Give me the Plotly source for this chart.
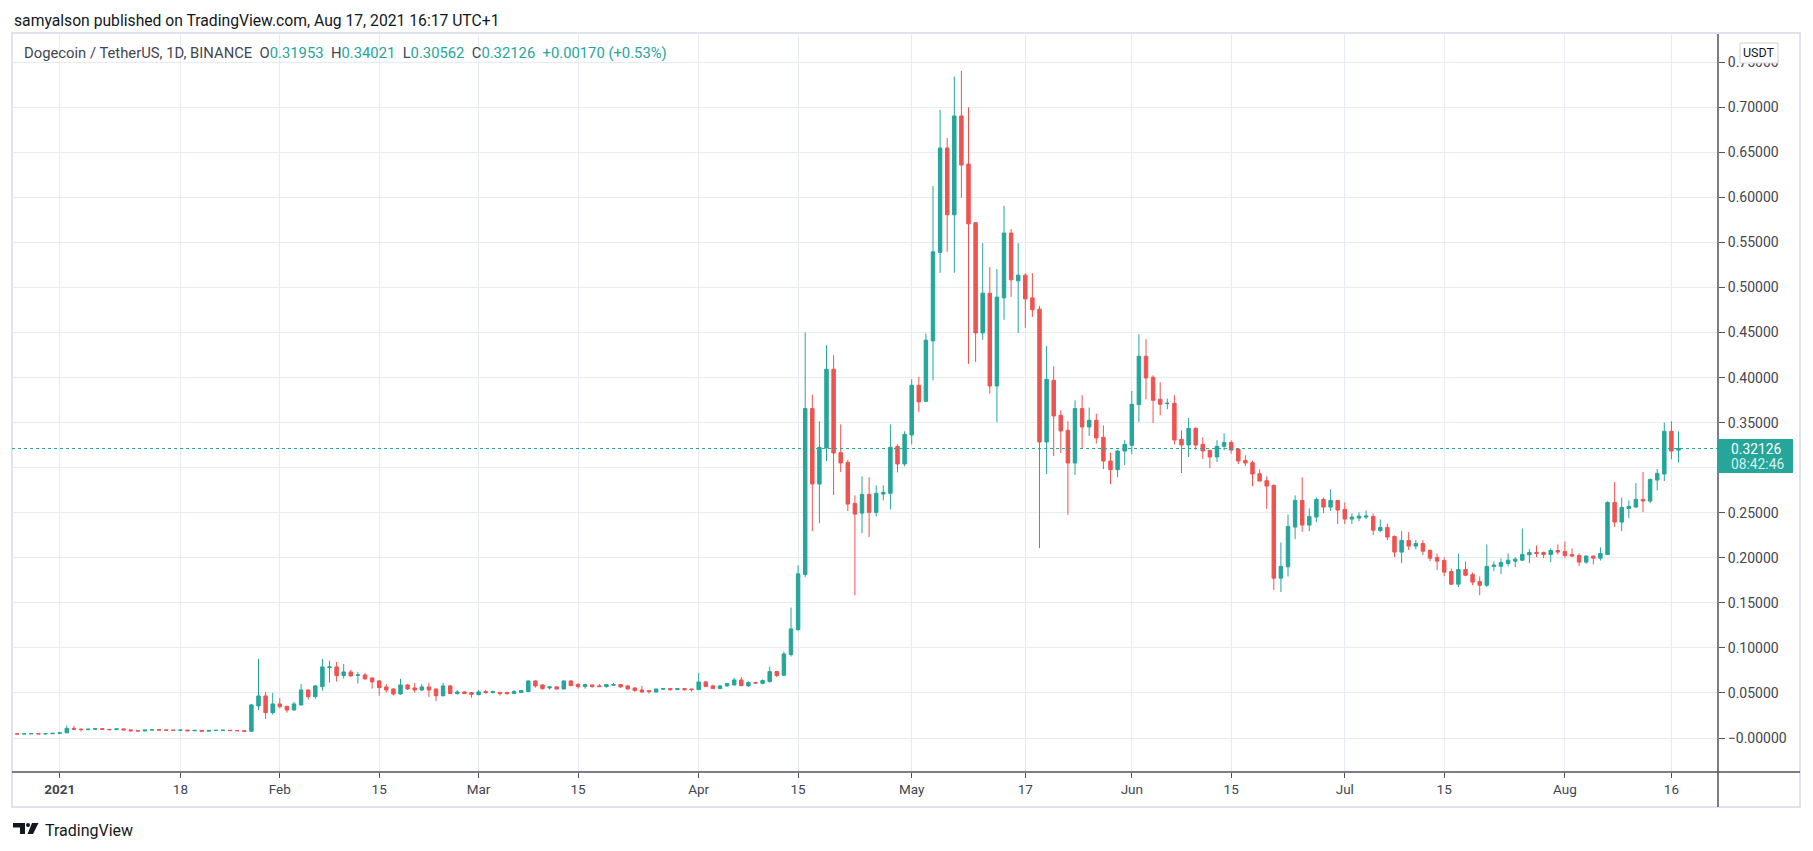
import pandas as pd
import plotly.graph_objects as go

# Daily DOGE/USDT candles (open, high, low, close)
DEC_2020 = [
    (0.0046, 0.0048, 0.0044, 0.0045), (0.0045, 0.0050, 0.0044, 0.0047),
    (0.0047, 0.0052, 0.0045, 0.0048), (0.0048, 0.0049, 0.0044, 0.0046),
    (0.0046, 0.0049, 0.0045, 0.0047), (0.0047, 0.0054, 0.0046, 0.0052),
]
JAN_2021 = [
    (0.0052, 0.0058, 0.0050, 0.0057), (0.0057, 0.0139, 0.0055, 0.0107),
    (0.0107, 0.0135, 0.0088, 0.0097), (0.0097, 0.0110, 0.0075, 0.0093),
    (0.0093, 0.0102, 0.0088, 0.0098), (0.0098, 0.0108, 0.0092, 0.0103),
    (0.0103, 0.0107, 0.0090, 0.0096), (0.0096, 0.0100, 0.0083, 0.0093),
    (0.0093, 0.0105, 0.0090, 0.0101), (0.0101, 0.0104, 0.0085, 0.0090),
    (0.0090, 0.0092, 0.0065, 0.0081), (0.0081, 0.0085, 0.0075, 0.0078),
    (0.0078, 0.0089, 0.0076, 0.0088), (0.0088, 0.0095, 0.0084, 0.0092),
    (0.0092, 0.0094, 0.0082, 0.0088), (0.0088, 0.0093, 0.0085, 0.0087),
    (0.0087, 0.0090, 0.0083, 0.0085), (0.0085, 0.0090, 0.0083, 0.0088),
    (0.0088, 0.0091, 0.0077, 0.0080), (0.0080, 0.0087, 0.0076, 0.0085),
    (0.0085, 0.0087, 0.0072, 0.0076), (0.0076, 0.0087, 0.0073, 0.0084),
    (0.0084, 0.0087, 0.0081, 0.0085), (0.0085, 0.0088, 0.0082, 0.0086),
    (0.0086, 0.0089, 0.0080, 0.0082), (0.0082, 0.0084, 0.0078, 0.0081),
    (0.0081, 0.0082, 0.0070, 0.0074), (0.0074, 0.0378, 0.0072, 0.0367),
    (0.0356, 0.0878, 0.0311, 0.0467), (0.0467, 0.0511, 0.0211, 0.0281),
    (0.0281, 0.0500, 0.0259, 0.0378),
]
FEB_2021 = [
    (0.0378, 0.0444, 0.0330, 0.0348), (0.0352, 0.0356, 0.0281, 0.0311),
    (0.0311, 0.0400, 0.0304, 0.0378), (0.0367, 0.0600, 0.0359, 0.0533),
    (0.0533, 0.0541, 0.0426, 0.0459), (0.0459, 0.0589, 0.0437, 0.0578),
    (0.0570, 0.0878, 0.0526, 0.0789), (0.0781, 0.0856, 0.0615, 0.0789),
    (0.0789, 0.0844, 0.0626, 0.0693), (0.0693, 0.0822, 0.0659, 0.0733),
    (0.0733, 0.0756, 0.0681, 0.0689), (0.0696, 0.0733, 0.0604, 0.0700),
    (0.0700, 0.0722, 0.0648, 0.0656), (0.0667, 0.0667, 0.0548, 0.0622),
    (0.0633, 0.0644, 0.0470, 0.0559), (0.0567, 0.0600, 0.0504, 0.0533),
    (0.0544, 0.0552, 0.0470, 0.0489), (0.0489, 0.0656, 0.0481, 0.0589),
    (0.0589, 0.0600, 0.0533, 0.0544), (0.0556, 0.0611, 0.0500, 0.0533),
    (0.0533, 0.0600, 0.0522, 0.0567), (0.0567, 0.0611, 0.0456, 0.0533),
    (0.0544, 0.0544, 0.0411, 0.0470), (0.0470, 0.0611, 0.0459, 0.0578),
    (0.0578, 0.0589, 0.0489, 0.0493), (0.0493, 0.0533, 0.0481, 0.0511),
    (0.0511, 0.0519, 0.0489, 0.0493), (0.0504, 0.0507, 0.0448, 0.0485),
]
MAR_2021 = [
    (0.0481, 0.0533, 0.0474, 0.0511), (0.0515, 0.0533, 0.0493, 0.0504),
    (0.0504, 0.0526, 0.0493, 0.0515), (0.0507, 0.0507, 0.0470, 0.0493),
    (0.0504, 0.0515, 0.0481, 0.0493), (0.0493, 0.0533, 0.0490, 0.0515),
    (0.0504, 0.0533, 0.0500, 0.0526), (0.0515, 0.0640, 0.0511, 0.0633),
    (0.0633, 0.0640, 0.0559, 0.0578), (0.0589, 0.0595, 0.0537, 0.0548),
    (0.0556, 0.0578, 0.0537, 0.0567), (0.0567, 0.0578, 0.0537, 0.0544),
    (0.0544, 0.0640, 0.0540, 0.0633), (0.0633, 0.0644, 0.0578, 0.0581),
    (0.0593, 0.0611, 0.0548, 0.0570), (0.0570, 0.0600, 0.0548, 0.0593),
    (0.0589, 0.0592, 0.0559, 0.0570), (0.0578, 0.0600, 0.0568, 0.0570),
    (0.0570, 0.0600, 0.0559, 0.0593), (0.0585, 0.0611, 0.0581, 0.0593),
    (0.0593, 0.0600, 0.0559, 0.0567), (0.0578, 0.0589, 0.0537, 0.0544),
    (0.0556, 0.0558, 0.0515, 0.0526), (0.0533, 0.0578, 0.0500, 0.0511),
    (0.0526, 0.0533, 0.0493, 0.0515), (0.0511, 0.0546, 0.0504, 0.0544),
    (0.0541, 0.0556, 0.0533, 0.0548), (0.0548, 0.0556, 0.0526, 0.0537),
    (0.0537, 0.0556, 0.0533, 0.0548), (0.0548, 0.0556, 0.0526, 0.0537),
    (0.0544, 0.0546, 0.0515, 0.0537),
]
APR_2021 = [
    (0.0537, 0.0722, 0.0535, 0.0622), (0.0622, 0.0633, 0.0567, 0.0570),
    (0.0578, 0.0593, 0.0544, 0.0548), (0.0548, 0.0589, 0.0544, 0.0578),
    (0.0578, 0.0611, 0.0570, 0.0604), (0.0589, 0.0667, 0.0581, 0.0644),
    (0.0644, 0.0678, 0.0578, 0.0581), (0.0578, 0.0630, 0.0570, 0.0615),
    (0.0615, 0.0625, 0.0600, 0.0610), (0.0607, 0.0650, 0.0595, 0.0637),
    (0.0626, 0.0793, 0.0615, 0.0737), (0.0737, 0.0748, 0.0674, 0.0693),
    (0.0696, 0.0959, 0.0690, 0.0933), (0.0926, 0.1448, 0.0904, 0.1211),
    (0.1204, 0.1915, 0.1185, 0.1822), (0.1815, 0.4500, 0.1785, 0.3656),
    (0.3656, 0.3811, 0.2296, 0.2819), (0.2819, 0.3515, 0.2385, 0.3226),
    (0.3219, 0.4359, 0.3074, 0.4093), (0.4093, 0.4248, 0.2696, 0.3163),
    (0.3167, 0.3481, 0.2952, 0.3052), (0.3059, 0.3089, 0.2519, 0.2596),
    (0.2604, 0.2693, 0.1585, 0.2485), (0.2496, 0.2904, 0.2274, 0.2704),
    (0.2704, 0.2893, 0.2230, 0.2504), (0.2504, 0.2804, 0.2459, 0.2715),
    (0.2707, 0.2804, 0.2637, 0.2726), (0.2715, 0.3481, 0.2537, 0.3226),
    (0.3237, 0.3259, 0.2948, 0.3041), (0.3041, 0.3404, 0.3015, 0.3370),
]
MAY_2021 = [
    (0.3363, 0.3981, 0.3259, 0.3915), (0.3915, 0.4007, 0.3619, 0.3730),
    (0.3737, 0.4489, 0.3726, 0.4415), (0.4407, 0.6126, 0.3970, 0.5396),
    (0.5389, 0.6970, 0.5163, 0.6548), (0.6548, 0.6659, 0.5396, 0.5807),
    (0.5807, 0.7341, 0.5163, 0.6904), (0.6904, 0.7404, 0.5996, 0.6359),
    (0.6370, 0.7000, 0.4152, 0.5707), (0.5719, 0.5726, 0.4174, 0.4496),
    (0.4496, 0.5493, 0.4419, 0.4937), (0.4937, 0.5226, 0.3822, 0.3907),
    (0.3907, 0.5204, 0.3507, 0.4893), (0.4885, 0.5907, 0.4641, 0.5604),
    (0.5604, 0.5648, 0.4896, 0.5085), (0.5074, 0.5493, 0.4496, 0.5137),
    (0.5137, 0.5159, 0.4552, 0.4874), (0.4885, 0.5159, 0.4674, 0.4752),
    (0.4759, 0.4796, 0.2107, 0.3285), (0.3285, 0.4352, 0.2930, 0.3981),
    (0.3970, 0.4126, 0.3130, 0.3574), (0.3581, 0.3637, 0.3163, 0.3407),
    (0.3415, 0.3515, 0.2478, 0.3052), (0.3052, 0.3748, 0.2920, 0.3656),
    (0.3656, 0.3804, 0.3220, 0.3452), (0.3452, 0.3667, 0.3352, 0.3526),
    (0.3526, 0.3600, 0.3267, 0.3330), (0.3337, 0.3470, 0.2985, 0.3074),
    (0.3074, 0.3167, 0.2815, 0.2978), (0.2978, 0.3200, 0.2893, 0.3185),
    (0.3185, 0.3304, 0.3030, 0.3259),
]
JUN_2021 = [
    (0.3248, 0.3852, 0.3150, 0.3704), (0.3700, 0.4481, 0.3507, 0.4237),
    (0.4237, 0.4426, 0.3759, 0.3996), (0.4004, 0.4026, 0.3496, 0.3748),
    (0.3759, 0.3948, 0.3581, 0.3704), (0.3713, 0.3767, 0.3648, 0.3715),
    (0.3715, 0.3804, 0.3259, 0.3307), (0.3315, 0.3415, 0.2941, 0.3252),
    (0.3252, 0.3552, 0.3119, 0.3437), (0.3437, 0.3448, 0.3200, 0.3252),
    (0.3259, 0.3337, 0.3096, 0.3185), (0.3193, 0.3193, 0.2996, 0.3119),
    (0.3119, 0.3304, 0.3063, 0.3237), (0.3237, 0.3381, 0.3193, 0.3281),
    (0.3281, 0.3304, 0.3156, 0.3196), (0.3207, 0.3215, 0.3041, 0.3074),
    (0.3081, 0.3137, 0.3019, 0.3052), (0.3056, 0.3078, 0.2796, 0.2930),
    (0.2933, 0.2981, 0.2850, 0.2852), (0.2856, 0.2904, 0.2541, 0.2796),
    (0.2804, 0.2815, 0.1644, 0.1774), (0.1774, 0.2170, 0.1619, 0.1904),
    (0.1900, 0.2481, 0.1793, 0.2348), (0.2341, 0.2693, 0.2207, 0.2637),
    (0.2637, 0.2893, 0.2289, 0.2363), (0.2363, 0.2548, 0.2296, 0.2459),
    (0.2452, 0.2670, 0.2396, 0.2648), (0.2648, 0.2670, 0.2496, 0.2563),
    (0.2563, 0.2759, 0.2519, 0.2637), (0.2637, 0.2640, 0.2374, 0.2530),
]
JUL_2021 = [
    (0.2537, 0.2615, 0.2374, 0.2430), (0.2430, 0.2493, 0.2374, 0.2452),
    (0.2441, 0.2504, 0.2407, 0.2463), (0.2452, 0.2526, 0.2430, 0.2463),
    (0.2459, 0.2493, 0.2252, 0.2307), (0.2304, 0.2426, 0.2285, 0.2337),
    (0.2337, 0.2381, 0.2196, 0.2230), (0.2237, 0.2248, 0.2007, 0.2063),
    (0.2063, 0.2296, 0.1941, 0.2193), (0.2193, 0.2285, 0.2085, 0.2130),
    (0.2130, 0.2196, 0.2096, 0.2159), (0.2159, 0.2196, 0.2030, 0.2074),
    (0.2081, 0.2093, 0.1963, 0.1996), (0.2004, 0.2048, 0.1863, 0.1963),
    (0.1970, 0.2004, 0.1796, 0.1841), (0.1848, 0.1881, 0.1700, 0.1707),
    (0.1707, 0.2048, 0.1674, 0.1870), (0.1870, 0.1959, 0.1796, 0.1807),
    (0.1815, 0.1837, 0.1696, 0.1730), (0.1737, 0.1793, 0.1585, 0.1696),
    (0.1696, 0.2148, 0.1674, 0.1904), (0.1904, 0.1959, 0.1852, 0.1919),
    (0.1907, 0.1993, 0.1819, 0.1948), (0.1937, 0.2048, 0.1907, 0.1974),
    (0.1963, 0.2007, 0.1896, 0.1985), (0.1974, 0.2326, 0.1963, 0.2037),
    (0.2033, 0.2096, 0.1941, 0.2059), (0.2059, 0.2137, 0.2007, 0.2048),
    (0.2059, 0.2070, 0.1996, 0.2037), (0.2037, 0.2104, 0.1952, 0.2081),
    (0.2081, 0.2148, 0.2037, 0.2063),
]
AUG_2021 = [
    (0.2070, 0.2181, 0.1996, 0.2026), (0.2037, 0.2104, 0.2007, 0.2019),
    (0.2026, 0.2048, 0.1907, 0.1952), (0.1952, 0.2026, 0.1933, 0.2019),
    (0.2019, 0.2026, 0.1926, 0.1996), (0.1996, 0.2115, 0.1970, 0.2048),
    (0.2037, 0.2626, 0.2030, 0.2615), (0.2615, 0.2841, 0.2341, 0.2396),
    (0.2396, 0.2670, 0.2296, 0.2559), (0.2548, 0.2637, 0.2441, 0.2570),
    (0.2563, 0.2830, 0.2552, 0.2648), (0.2648, 0.2952, 0.2507, 0.2630),
    (0.2630, 0.2880, 0.2607, 0.2870), (0.2863, 0.2985, 0.2748, 0.2937),
    (0.2930, 0.3500, 0.2852, 0.3404), (0.3404, 0.3515, 0.3093, 0.3185),
    (0.31953, 0.34021, 0.30562, 0.32126),
]
FIRST_DAY = "2020-12-26"

PRICE_TICKS = [0.0, 0.05, 0.10, 0.15, 0.20, 0.25, 0.30, 0.35, 0.40, 0.45, 0.50, 0.55, 0.60, 0.65, 0.70, 0.75]
# the 0.30 label sits under the last-price badge, so it stays blank
PRICE_TICK_TEXT = ["\u22120.00000", "0.05000", "0.10000", "0.15000", "0.20000", "0.25000", "",
                   "0.35000", "0.40000", "0.45000", "0.50000", "0.55000", "0.60000", "0.65000",
                   "0.70000", "0.75000"]
DATE_TICKS = ["2021-01-01", "2021-01-18", "2021-02-01", "2021-02-15", "2021-03-01", "2021-03-15",
              "2021-04-01", "2021-04-15", "2021-05-01", "2021-05-17", "2021-06-01", "2021-06-15",
              "2021-07-01", "2021-07-15", "2021-08-01", "2021-08-16"]
DATE_TICK_TEXT = ["<b>2021</b>", "18", "Feb", "15", "Mar", "15", "Apr", "15", "May", "17",
                  "Jun", "15", "Jul", "15", "Aug", "16"]
LAST_PRICE = 0.32126

GREEN = "#26a69a"
RED = "#ef5350"
GRID = "#e6ecf1"
AXIS = "#50535e"
FONT = "Trebuchet MS, Roboto, Liberation Sans, sans-serif"

rows = DEC_2020 + JAN_2021 + FEB_2021 + MAR_2021 + APR_2021 + MAY_2021 + JUN_2021 + JUL_2021 + AUG_2021
df = pd.DataFrame(rows, columns=["open", "high", "low", "close"])
df["date"] = pd.date_range(FIRST_DAY, periods=len(df), freq="D")

W, H = 1813, 851
L, R, T, B = 12, 1718, 34, 772  # plot area in pixels


def xp(px):
    return (px - L) / (R - L)


def yp(py):
    return (B - py) / (B - T)


fig = go.Figure()
fig.add_trace(
    go.Candlestick(
        x=df["date"], open=df["open"], high=df["high"], low=df["low"], close=df["close"],
        increasing=dict(line=dict(color=GREEN, width=1), fillcolor=GREEN),
        decreasing=dict(line=dict(color=RED, width=1), fillcolor=RED),
        whiskerwidth=0,
        hoverinfo="skip",
    )
)

shapes = [
    # outer frame
    dict(type="rect", xref="paper", yref="paper", x0=xp(12), x1=xp(1800), y0=yp(33), y1=yp(807),
         line=dict(color="#e0e3eb", width=2), layer="below"),
    # last price dotted line
    dict(type="line", xref="paper", yref="y", x0=0, x1=1, y0=LAST_PRICE, y1=LAST_PRICE,
         line=dict(color=GREEN, width=1, dash="dot")),
    # price scale border and time axis line
    dict(type="line", xref="paper", yref="paper", x0=1, x1=1, y0=yp(34), y1=yp(807),
         line=dict(color=AXIS, width=1.5), layer="above"),
    dict(type="line", xref="paper", yref="paper", x0=0, x1=xp(1800), y0=0, y1=0,
         line=dict(color=AXIS, width=1.5), layer="above"),
    # last price label box
    dict(type="rect", xref="paper", yref="paper", x0=1, x1=xp(1793), y0=yp(439), y1=yp(473),
         fillcolor=GREEN, line=dict(width=0), layer="above"),
    # currency box
    dict(type="rect", xref="paper", yref="paper", x0=xp(1740), x1=xp(1778), y0=yp(43), y1=yp(63),
         fillcolor="white", line=dict(color="#d1d4dc", width=1), layer="above"),
    # TradingView logo
    dict(type="path", xref="paper", yref="paper", layer="above", fillcolor="#131722", line=dict(width=0),
         path=f"M {xp(13)} {yp(823)} L {xp(25)} {yp(823)} L {xp(25)} {yp(834)} L {xp(20)} {yp(834)} "
              f"L {xp(20)} {yp(827.5)} L {xp(13)} {yp(827.5)} Z"),
    dict(type="circle", xref="paper", yref="paper", layer="above", fillcolor="#131722", line=dict(width=0),
         x0=xp(26), x1=xp(30), y0=yp(823), y1=yp(827)),
    dict(type="path", xref="paper", yref="paper", layer="above", fillcolor="#131722", line=dict(width=0),
         path=f"M {xp(32)} {yp(823)} L {xp(38.5)} {yp(823)} L {xp(33)} {yp(834)} L {xp(27.5)} {yp(834)} Z"),
]

c = "#434651"
t = GREEN
title = (
    f"<span style='color:{c}'>Dogecoin / TetherUS, 1D, BINANCE\u00a0\u00a0O</span>"
    f"<span style='color:{t}'>0.31953</span>"
    f"<span style='color:{c}'>\u00a0\u00a0H</span><span style='color:{t}'>0.34021</span>"
    f"<span style='color:{c}'>\u00a0\u00a0L</span><span style='color:{t}'>0.30562</span>"
    f"<span style='color:{c}'>\u00a0\u00a0C</span><span style='color:{t}'>0.32126\u00a0\u00a0+0.00170 (+0.53%)</span>"
)

annotations = [
    dict(text="samyalson published on TradingView.com, Aug 17, 2021 16:17 UTC+1", xref="paper", yref="paper",
         x=xp(12), y=yp(20), xanchor="left", yanchor="middle", showarrow=False,
         font=dict(family=FONT, size=15.7, color="#131722")),
    dict(text=title, xref="paper", yref="paper", x=xp(22), y=yp(53), xanchor="left", yanchor="middle",
         showarrow=False, font=dict(family=FONT, size=14.8, color=c)),
    dict(text="USDT", xref="paper", yref="paper", x=xp(1759), y=yp(53), xanchor="center", yanchor="middle",
         showarrow=False, font=dict(family=FONT, size=12.5, color="#131722")),
    dict(text=f"{LAST_PRICE:.5f}", xref="paper", yref="paper", x=xp(1729), y=yp(448.5), xanchor="left",
         yanchor="middle", showarrow=False, font=dict(family=FONT, size=13.8, color="white")),
    dict(text="08:42:46", xref="paper", yref="paper", x=xp(1729), y=yp(464.5), xanchor="left",
         yanchor="middle", showarrow=False, font=dict(family=FONT, size=13.8, color="#d4efec")),
    dict(text="TradingView", xref="paper", yref="paper", x=xp(43), y=yp(830), xanchor="left",
         yanchor="middle", showarrow=False, font=dict(family=FONT, size=16, color="#131722")),
]

fig.update_layout(
    width=W, height=H,
    margin=dict(l=L, r=W - R, t=T, b=H - B, pad=0),
    paper_bgcolor="white", plot_bgcolor="white",
    showlegend=False,
    hovermode=False,
    shapes=shapes,
    annotations=annotations,
    font=dict(family=FONT, size=13, color="#131722"),
    xaxis=dict(
        type="date",
        range=["2020-12-25 06:46", "2021-08-22 13:30"],
        rangeslider=dict(visible=False),
        tickvals=DATE_TICKS, ticktext=DATE_TICK_TEXT,
        showgrid=True, gridcolor=GRID, gridwidth=1,
        ticks="outside", ticklen=5, tickcolor=AXIS, tickwidth=1,
        tickfont=dict(family=FONT, size=13.5, color="#434651"),
        showline=False, zeroline=False,
    ),
    yaxis=dict(
        side="right",
        range=[-0.03774, 0.78135],
        tickvals=PRICE_TICKS, ticktext=PRICE_TICK_TEXT,
        showgrid=True, gridcolor=GRID, gridwidth=1,
        ticks="outside", ticklen=6, tickcolor=AXIS, tickwidth=1,
        ticklabelstandoff=0,
        tickfont=dict(family=FONT, size=14, color="#434651"),
        showline=False, zeroline=False,
    ),
)

# drop the browser's default body margin so the figure sits at the page origin
fig.write_html("out.html", config={"displayModeBar": False},
               post_script="document.body.style.margin='0';document.body.style.overflow='hidden';")
